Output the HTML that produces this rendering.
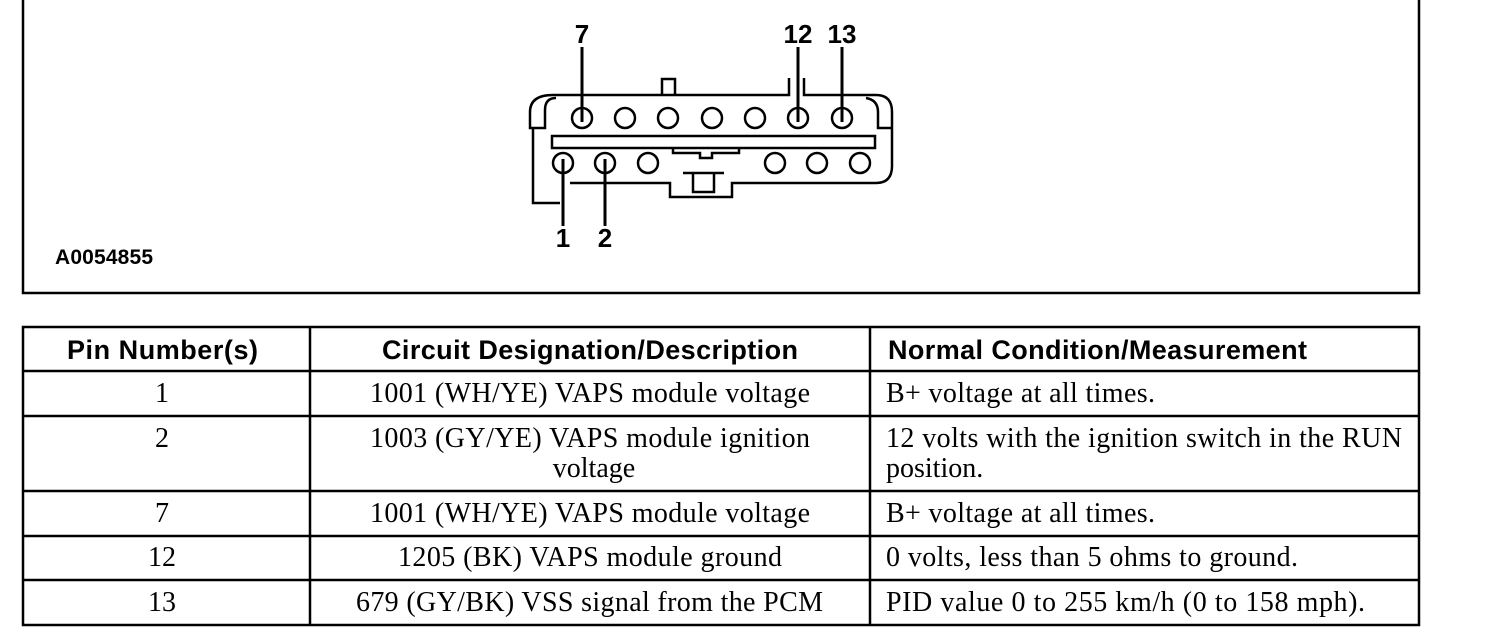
<!DOCTYPE html>
<html><head><meta charset="utf-8"><style>
body{margin:0;background:#fff;width:1504px;height:636px;overflow:hidden}
svg{display:block}
.b{font-family:"Liberation Sans",sans-serif;font-weight:bold}
.s{font-family:"Liberation Serif",serif;font-size:28px}
</style></head><body>
<svg width="1504" height="636" xmlns="http://www.w3.org/2000/svg">
<g fill="none" stroke="#000">
<path d="M23 -2 V293 H1419 V-2" stroke-width="2.5"/>
<g stroke-width="2.5">
<path d="M662 95 V79 H675 V95"/>
<path d="M553 95 H789 V78 M804 78 V95 H876 Q892 95 892 112 V166 Q892 183 876 183 H732 V197 H670 V183 H570"/>
<path d="M553 95 Q530 95 530 112 V128 H545 V110 Q545 98 556 98"/>
<path d="M533 128 V203 H560"/>
<path d="M892 128 H878 V112 Q878 100 866 98"/>
<rect x="552" y="136" width="323" height="12"/>
<path d="M673 148 V153 H700 V158 H712 V153 H739 V148"/>
<path d="M683 173 H724 M693 173 V192 H714 V173"/>
</g>
<g stroke-width="2.5">
<circle cx="582" cy="118" r="10"/><circle cx="625" cy="118" r="10"/><circle cx="668" cy="118" r="10"/><circle cx="712" cy="118" r="10"/><circle cx="755" cy="118" r="10"/><circle cx="798" cy="118" r="10"/><circle cx="842" cy="118" r="10"/>
<circle cx="563" cy="163" r="10"/><circle cx="605" cy="163" r="10"/><circle cx="648" cy="163" r="10"/><circle cx="775" cy="163" r="10"/><circle cx="817" cy="163" r="10"/><circle cx="860" cy="163" r="10"/>
</g>
<g stroke-width="3">
<path d="M582 47 V122 M798 47 V122 M842 47 V122 M563 159 V226 M605 159 V226"/>
</g>
<g stroke-width="2.5">
<rect x="23" y="327" width="1396" height="298"/>
<path d="M310 327 V625 M870 327 V625 M23 371 H1419 M23 416 H1419 M23 491 H1419 M23 536 H1419 M23 580 H1419"/>
</g>
</g>
<g class="b" font-size="26" text-anchor="middle">
<text x="582" y="43">7</text><text x="798" y="43" textLength="29">12</text><text x="842" y="43" textLength="29">13</text>
<text x="563" y="247">1</text><text x="605" y="247">2</text>
</g>
<text class="b" x="55" y="264" font-size="21" textLength="98">A0054855</text>
<g class="b" font-size="27">
<text x="67" y="359" textLength="191">Pin Number(s)</text>
<text x="382" y="359" textLength="416">Circuit Designation/Description</text>
<text x="888" y="359" textLength="419">Normal Condition/Measurement</text>
</g>
<g class="s">
<g text-anchor="middle">
<text x="162" y="402">1</text><text x="162" y="447">2</text><text x="162" y="522">7</text><text x="162" y="566">12</text><text x="162" y="611">13</text>
<text x="594" y="477">voltage</text>
</g>
<text x="370" y="402" textLength="440">1001 (WH/YE) VAPS module voltage</text>
<text x="370" y="447" textLength="440">1003 (GY/YE) VAPS module ignition</text>
<text x="370" y="522" textLength="440">1001 (WH/YE) VAPS module voltage</text>
<text x="398" y="566" textLength="384">1205 (BK) VAPS module ground</text>
<text x="356" y="611" textLength="467">679 (GY/BK) VSS signal from the PCM</text>
<text x="886" y="402" textLength="269">B+ voltage at all times.</text>
<text x="886" y="447" textLength="516">12 volts with the ignition switch in the RUN</text>
<text x="886" y="477">position.</text>
<text x="886" y="522" textLength="269">B+ voltage at all times.</text>
<text x="886" y="566" textLength="412">0 volts, less than 5 ohms to ground.</text>
<text x="886" y="611" textLength="479">PID value 0 to 255 km/h (0 to 158 mph).</text>
</g>
</svg>
</body></html>
